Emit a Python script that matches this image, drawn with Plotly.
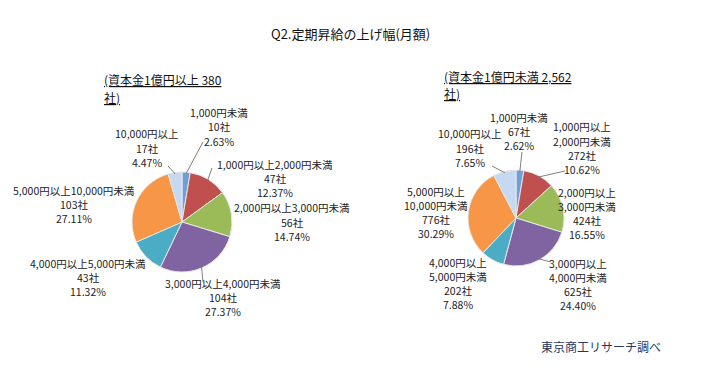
import math
import plotly.graph_objects as go

# ---- data ----
categories = ["1,000円未満", "1,000円以上2,000円未満", "2,000円以上3,000円未満",
              "3,000円以上4,000円未満", "4,000円以上5,000円未満",
              "5,000円以上10,000円未満", "10,000円以上"]
large_counts = [10, 47, 56, 104, 43, 103, 17]      # 資本金1億円以上 380社
small_counts = [67, 272, 424, 625, 202, 776, 196]  # 資本金1億円未満 2,562社
colors = ["#6f9fd8", "#c0504d", "#9bbb59", "#8064a2", "#4bacc6", "#f79646", "#c6d9f1"]

title_text = "Q2.定期昇給の上げ幅(月額)"
left_title = ["(資本金1億円以上 380", "社)"]
right_title = ["(資本金1億円未満 2,562", "社)"]
source_text = "東京商工リサーチ調べ"

W, H = 714, 368
FONT = "Noto Sans CJK JP, Noto Sans, sans-serif"

# pie geometry (pixels)
left_pie = dict(cx=182, cy=222, r=50)
right_pie = dict(cx=516, cy=218, r=48)

# label centers (pixels) and leader start points (None = no leader)
left_label_pos = [(219, 127), (275, 178), (292, 222), (223, 297), (88, 277), (74, 204), (147, 148)]
left_leader = [(203, 142), (212, 168), None, (203, 282), None, None, (168, 166)]
right_label_pos = [(519, 131), (582, 148), (587, 213), (578, 284), (458, 283), (436, 212), (470, 148)]
right_leader = [(522, 152), (565, 171), None, (551, 262), None, None, (492, 166)]


def px_x(x):
    return x / W


def px_y(y):
    return 1 - y / H


fig = go.Figure()


def add_pie(counts, pie, name):
    fig.add_trace(go.Pie(
        values=counts, labels=categories, name=name, sort=False,
        direction="clockwise", rotation=0,
        marker=dict(colors=colors, line=dict(color="#e8e8e8", width=1)),
        textinfo="none", hoverinfo="label+value+percent", showlegend=False,
        domain=dict(x=[px_x(pie["cx"] - pie["r"]), px_x(pie["cx"] + pie["r"])],
                    y=[px_y(pie["cy"] + pie["r"]), px_y(pie["cy"] - pie["r"])]),
    ))


add_pie(large_counts, left_pie, "1億円以上")
add_pie(small_counts, right_pie, "1億円未満")

annotations = []
shapes = []


def split_name(n):
    i = n.find("以上")
    if i >= 0 and i + 2 < len(n):
        return [n[:i + 2], n[i + 2:]]
    return [n]


def add_lines(lines, cx, cy, size=10.5, color="#222222", anchor="center",
              underline=False, step=14):
    n = len(lines)
    for k, t in enumerate(lines):
        y = cy + (k - (n - 1) / 2) * step
        annotations.append(dict(x=px_x(cx), y=px_y(y), xref="paper", yref="paper",
                                text=f"<u>{t}</u>" if underline else t, showarrow=False,
                                xanchor=anchor, yanchor="middle", borderpad=0,
                                font=dict(family=FONT, size=size, color=color)))


def add_labels(counts, pie, positions, leaders, wrap):
    total = sum(counts)
    cum = 0
    for i, c in enumerate(counts):
        mid = (cum + c / 2) / total * 2 * math.pi
        cum += c
        name_lines = split_name(categories[i]) if wrap else [categories[i]]
        lines = name_lines + [f"{c}社", f"{c / total * 100:.2f}%"]
        lx, ly = positions[i]
        add_lines(lines, lx, ly)
        if leaders[i] is not None:
            ex = pie["cx"] + pie["r"] * 0.97 * math.sin(mid)
            ey = pie["cy"] - pie["r"] * 0.97 * math.cos(mid)
            sx, sy = leaders[i]
            shapes.append(dict(type="line", xref="paper", yref="paper",
                               x0=px_x(sx), y0=px_y(sy), x1=px_x(ex), y1=px_y(ey),
                               line=dict(color="#808080", width=1)))


add_labels(large_counts, left_pie, left_label_pos, left_leader, False)
add_labels(small_counts, right_pie, right_label_pos, right_leader, True)

add_lines([title_text], 350, 33, size=13, color="#111111")
add_lines(left_title, 103, 88.5, size=12, color="#111111", anchor="left", underline=True, step=17)
add_lines(right_title, 443, 84.5, size=12, color="#111111", anchor="left", underline=True, step=17)
add_lines([source_text], 540, 346, size=12, color="#1f3864", anchor="left")

fig.update_layout(
    width=W, height=H, margin=dict(l=0, r=0, t=0, b=0),
    paper_bgcolor="white", plot_bgcolor="white",
    annotations=annotations, shapes=shapes, showlegend=False,
)

fig.write_html("out.html")
